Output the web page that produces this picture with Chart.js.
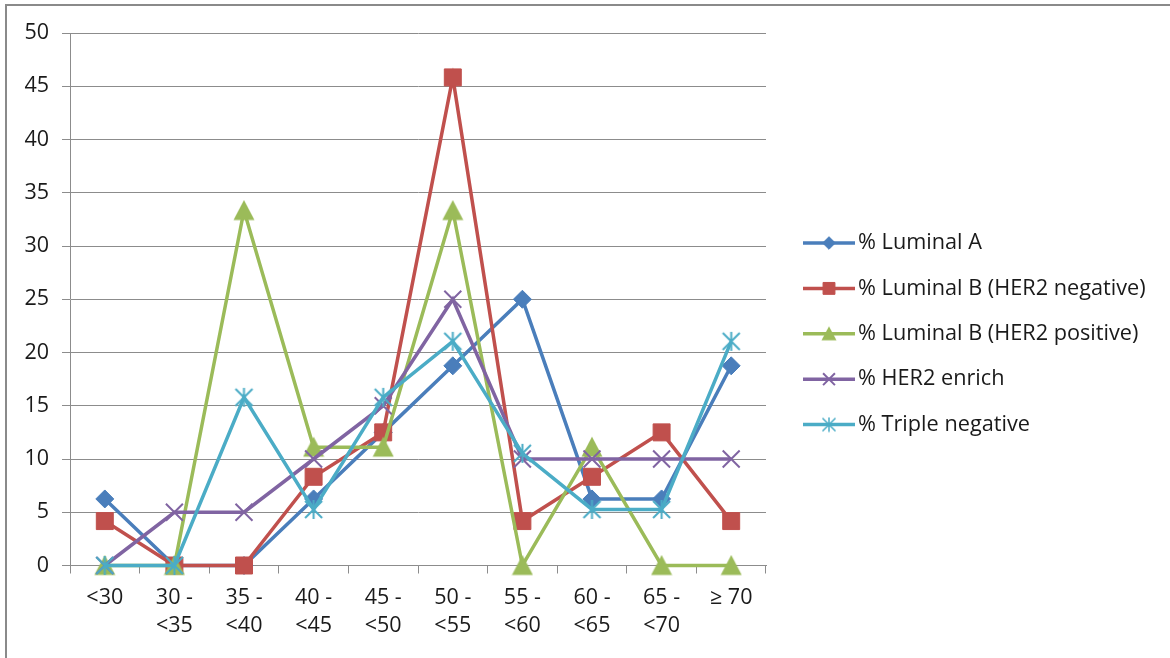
<!DOCTYPE html>
<html>
<head>
<meta charset="utf-8">
<script src="https://cdn.jsdelivr.net/npm/chart.js@4.4.1/dist/chart.umd.min.js"></script>
<style>
  body { margin: 0; background: #fff; }
  #wrap { position: relative; width: 1170px; height: 658px; overflow: hidden; }
  #frame { position: absolute; left: 5px; top: 4px; right: -10px; bottom: -10px; border-top: 2px solid #8a8a8a; border-left: 2px solid #8a8a8a; }
  canvas { position: absolute; left: 0; top: 0; }
</style>
</head>
<body>
<div id="wrap">
  <div id="frame"></div>
  <canvas id="chart" width="1170" height="658"></canvas>
</div>
<script>
const ageGroups = [['<30'], ['30 -', '<35'], ['35 -', '<40'], ['40 -', '<45'], ['45 -', '<50'],
  ['50 -', '<55'], ['55 -', '<60'], ['60 -', '<65'], ['65 -', '<70'], ['\u2265 70']];

const seriesNames = ['% Luminal A', '% Luminal B (HER2 negative)', '% Luminal B (HER2 positive)',
  '% HER2 enrich', '% Triple negative'];

const luminalA = [6.25, 0, 0, 6.25, 12.5, 18.75, 25, 6.25, 6.25, 18.75];
const luminalBNeg = [4.17, 0, 0, 8.33, 12.5, 45.83, 4.17, 8.33, 12.5, 4.17];
const luminalBPos = [0, 0, 33.33, 11.11, 11.11, 33.33, 0, 11.11, 0, 0];
const her2Enrich = [0, 5, 5, 10, 15, 25, 10, 10, 10, 10];
const tripleNeg = [0, 0, 15.79, 5.26, 15.79, 21.05, 10.53, 5.26, 5.26, 21.05];

const FONT = "'Open Sans', sans-serif";
const gridColor = '#8c8c8c';

// Excel-like markers centred on their bounding box
function triangleMarker(size, color) {
  const c = document.createElement('canvas');
  c.width = size; c.height = size;
  const g = c.getContext('2d');
  g.fillStyle = color;
  g.beginPath();
  g.moveTo(size / 2, 0.5);
  g.lineTo(size - 0.5, size - 1.5);
  g.lineTo(0.5, size - 1.5);
  g.closePath();
  g.fill();
  return c;
}

function starMarker(size, color, lw) {
  const c = document.createElement('canvas');
  c.width = size; c.height = size;
  const g = c.getContext('2d');
  const m = lw, h = size / 2;
  g.strokeStyle = color;
  g.lineWidth = lw;
  g.beginPath();
  g.moveTo(h, m / 2); g.lineTo(h, size - m / 2);
  g.moveTo(m, m); g.lineTo(size - m, size - m);
  g.moveTo(size - m, m); g.lineTo(m, size - m);
  g.stroke();
  return c;
}

const styles = [
  { color: '#4a7ebb', point: 'rectRot', radius: 9, bw: 1 },
  { color: '#c0504d', point: 'rect', radius: 12, bw: 1 },
  { color: '#9bbb59', point: triangleMarker(22, '#9bbb59'), legendPoint: triangleMarker(16, '#9bbb59'), radius: 11, bw: 1 },
  { color: '#8064a2', point: 'crossRot', radius: 12, bw: 2 },
  { color: '#4bacc6', point: starMarker(21, '#4bacc6', 2), legendPoint: starMarker(16, '#4bacc6', 1.5), radius: 10, bw: 2 }
];

const allValues = [luminalA, luminalBNeg, luminalBPos, her2Enrich, tripleNeg];

const datasets = allValues.map((vals, i) => ({
  label: seriesNames[i],
  data: vals,
  borderColor: styles[i].color,
  backgroundColor: styles[i].color,
  borderWidth: 3.5,
  pointStyle: styles[i].point,
  pointRadius: styles[i].radius,
  pointBorderWidth: styles[i].bw,
  pointBackgroundColor: styles[i].color,
  pointBorderColor: styles[i].color,
  tension: 0,
  clip: false,
  order: 5 - i
}));

// legend drawn by hand so each entry shows line + marker
const legendPlugin = {
  id: 'sideLegend',
  afterDraw(chart) {
    const ctx = chart.ctx;
    const x0 = 803, x1 = 855, top = 243, gap = 45.4;
    ctx.save();
    chart.data.datasets.forEach((ds, i) => {
      const y = top + i * gap;
      ctx.strokeStyle = ds.borderColor;
      ctx.lineWidth = 3.5;
      ctx.beginPath();
      ctx.moveTo(x0, y);
      ctx.lineTo(x1, y);
      ctx.stroke();
      ctx.fillStyle = ds.borderColor;
      ctx.strokeStyle = ds.borderColor;
      ctx.lineWidth = ds.pointBorderWidth;
      Chart.helpers.drawPoint(ctx, {
        pointStyle: styles[i].legendPoint || ds.pointStyle,
        radius: ds.pointRadius * 0.7,
        rotation: 0,
        borderWidth: ds.pointBorderWidth
      }, (x0 + x1) / 2, y);
      ctx.fillStyle = '#1a1a1a';
      ctx.font = '21.7px ' + FONT;
      ctx.textBaseline = 'middle';
      ctx.textAlign = 'left';
      ctx.fillText(ds.label, 858, y);
    });
    ctx.restore();
  }
};

new Chart(document.getElementById('chart'), {
  type: 'line',
  data: { labels: ageGroups, datasets: datasets },
  options: {
    responsive: false,
    animation: false,
    layout: { padding: { top: 33, right: 404, bottom: 0, left: 0 } },
    plugins: { legend: { display: false }, tooltip: { enabled: false } },
    scales: {
      x: {
        offset: true,
        grid: { display: true, drawOnChartArea: false, offset: true, tickLength: 8, color: gridColor },
        border: { color: gridColor, width: 1 },
        ticks: { color: '#1a1a1a', padding: 10, maxRotation: 0, autoSkip: false,
          font: { family: FONT, size: 21.5, lineHeight: '28px' } },
        afterFit(scale) { scale.height = 92.5; }
      },
      y: {
        min: 0,
        max: 50,
        ticks: { stepSize: 5, color: '#1a1a1a', padding: 13, font: { family: FONT, size: 21.5 } },
        grid: { color: gridColor, tickLength: 8 },
        border: { color: gridColor, width: 1 },
        afterFit(scale) { scale.width = 70; }
      }
    }
  },
  plugins: [legendPlugin]
});
</script>
</body>
</html>
